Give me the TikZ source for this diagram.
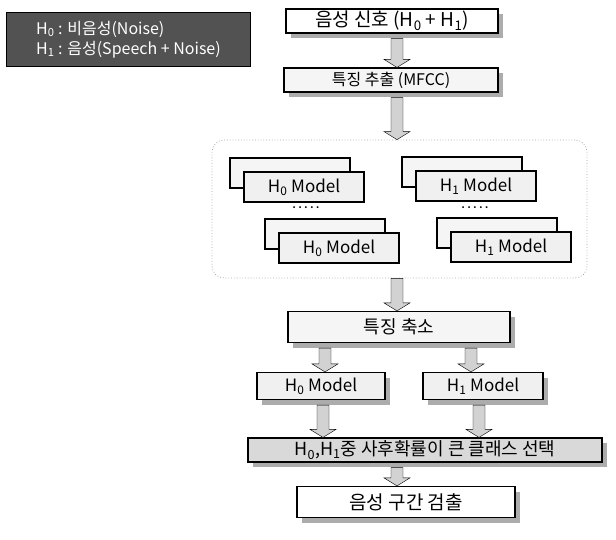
\documentclass[tikz,border=0pt]{standalone}
\usepackage{fontspec}
\setmainfont{Noto Sans CJK KR}
\usetikzlibrary{calc, shadows, positioning}
\newcommand{\hyp}[1]{H\textsubscript{#1}}

\begin{document}
\begin{tikzpicture}[
    x=1pt, y=-1pt,
    stage/.style={rectangle, draw=black, line width=1.2pt, fill=white, inner sep=0pt, font=\fontsize{17}{19}\selectfont,
        drop shadow={shadow xshift=5pt, shadow yshift=-5pt, fill=gray!65, opacity=1}},
    model/.style={stage, fill=gray!12, minimum width=120, minimum height=30},
    stacked/.style={rectangle, draw=black, line width=1.2pt, fill=gray!12, inner sep=0pt, minimum width=120, minimum height=30,
        font=\fontsize{17}{19}\selectfont, copy shadow={shadow xshift=-14pt, shadow yshift=14pt, fill=gray!8, draw=black, line width=1.2pt}},
    blockarrow/.style={draw=black, fill=gray!35, thin, to path={
        let \p1=(\tikztostart), \p2=(\tikztotarget) in
        (\x1-6pt,\y1) -- (\x1+6pt,\y1) -- (\x1+6pt,\y2+8pt) -- (\x1+13pt,\y2+8pt) -- (\x1,\y2)
        -- (\x1-13pt,\y2+8pt) -- (\x1-6pt,\y2+8pt) -- cycle}}
]
    \useasboundingbox (0,0) rectangle (616,539);

    % legend
    \node (legend) [rectangle, draw=black, line width=1pt, fill=black!68, text=white, align=left, inner xsep=6pt,
        minimum width=244, minimum height=54, anchor=north west, font=\fontsize{16}{20}\selectfont]
        at (6,12) {\hyp{0} : 비음성(Noise)\\\hyp{1} : 음성(Speech + Noise)};

    \coordinate (spine) at (397,0);

    % main flow
    \node (signal) [stage, minimum width=212, minimum height=24, font=\fontsize{19}{21}\selectfont] at (392,21) {음성 신호 (\hyp{0} + \hyp{1})};
    \node (mfcc) [stage, fill=gray!8, minimum width=214, minimum height=24, font=\fontsize{16}{18}\selectfont] at (391,80) {특징 추출 (MFCC)};

    % model bank
    \node (bank) [rectangle, draw=gray!70, dotted, line width=0.8pt, rounded corners=12pt, minimum width=375, minimum height=138] at (399.5,209) {};
    \node (hzeroA) [stacked] at (304,187) {\hyp{0} Model};
    \node (hzeroB) [stacked] at (339,248) {\hyp{0} Model};
    \node (honeA) [stacked] at (476,186) {\hyp{1} Model};
    \node (honeB) [stacked] at (511,247) {\hyp{1} Model};
    \node (dotsL) [font=\small\bfseries] at (306,208) {. . . . .};
    \node (dotsR) [font=\small\bfseries] at (475,208) {. . . . .};

    \node (reduce) [stage, fill=gray!8, minimum width=222, minimum height=31, font=\fontsize{18}{20}\selectfont] at (399,327) {특징 축소};
    \node (hzero) [model, minimum width=128, minimum height=27] at (321,386) {\hyp{0} Model};
    \node (hone) [model, minimum width=120, minimum height=27] at (483,386) {\hyp{1} Model};
    \node (select) [stage, fill=gray!30, minimum width=354, minimum height=24, font=\fontsize{18}{20}\selectfont] at (425,450) {\hyp{0},\hyp{1}중 사후확률이 큰 클래스 선택};
    \node (detect) [stage, minimum width=218, minimum height=31, font=\fontsize{19}{21}\selectfont] at (406,502) {음성 구간 검출};

    \draw[blockarrow] ($(signal.south -| spine)+(0,5)$) to (mfcc.north -| spine);
    \draw[blockarrow] ($(mfcc.south -| spine)+(0,5)$) to (bank.north -| spine);
    \draw[blockarrow] (bank.south -| spine) to (reduce.north -| spine);
    \draw[blockarrow] ($(reduce.south -| hzero)+(4,5)$) to ($(hzero.north)+(4,0)$);
    \draw[blockarrow] ($(reduce.south -| hone)+(-12,5)$) to ($(hone.north)+(-12,0)$);
    \draw[blockarrow] ($(hzero.south)+(2,5)$) to ($(select.north -| hzero)+(2,0)$);
    \draw[blockarrow] ($(hone.south)+(-4,5)$) to ($(select.north -| hone)+(-4,0)$);
    \draw[blockarrow] ($(select.south -| spine)+(0,5)$) to (detect.north -| spine);
\end{tikzpicture}
\end{document}
